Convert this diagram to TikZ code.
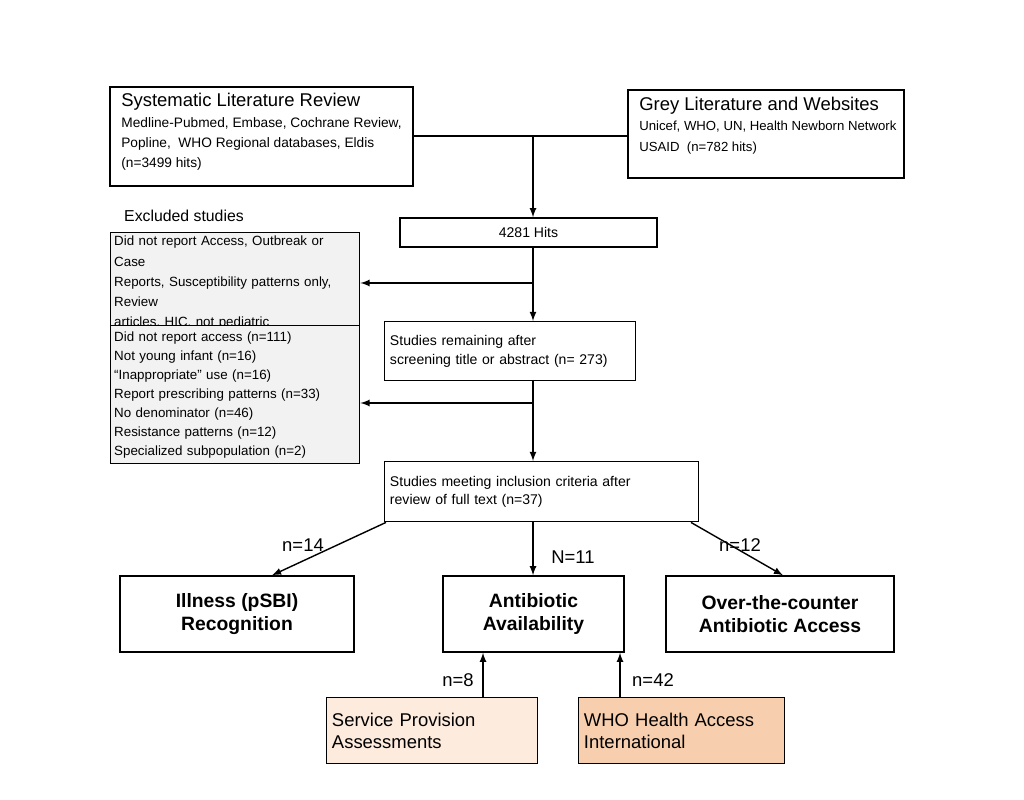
\documentclass[tikz,border=0pt]{standalone}
\usepackage{fontspec}
\setmainfont{Liberation Sans}
\usetikzlibrary{calc,arrows.meta}
\definecolor{svcfill}{HTML}{FDEBDD}
\definecolor{whofill}{HTML}{F8CFAE}
\definecolor{exclfill}{HTML}{F2F2F2}
\begin{document}
\begin{tikzpicture}[x=0.02cm,y=-0.02cm,
  box/.style={draw,line width=0.8pt,inner sep=3pt},
  small/.style={font=\fontsize{8}{10.5}\selectfont},
  excl/.style={box,fill=exclfill,align=left,anchor=north west,inner sep=2pt,
    text width=242*0.02cm,font=\fontsize{7.6}{11.5}\selectfont},
  big/.style={font=\fontsize{10.5}{12.5}\selectfont},
  bold/.style={font=\fontsize{11}{13}\selectfont\bfseries,align=center},
  arr/.style={-latex,line width=0.8pt}]
  \useasboundingbox (0,0) rectangle (1024,800);
  %% Sources
  \draw[box] (110,87) rectangle (413,186);
  \node[big,anchor=north west,inner sep=0pt] (SLR) at (121,93) {Systematic Literature Review};
  \node[anchor=north west,align=left,inner sep=0pt,font=\fontsize{7.8}{11.5}\selectfont] (SLRsub) at (121,117)
    {Medline-Pubmed, Embase, Cochrane Review,\\Popline,\ \ WHO Regional databases, Eldis\\(n=3499 hits)};
  \draw[box] (628,90) rectangle (904,178);
  \node[big,anchor=north west,inner sep=0pt] (GREY) at (639,97) {Grey Literature and Websites};
  \node[anchor=north west,align=left,inner sep=0pt,font=\fontsize{7.5}{11.5}\selectfont] (GREYsub) at (639,121)
    {Unicef, WHO, UN, Health Newborn Network\\USAID\ \ (n=782 hits)};
  \coordinate (SLRr) at (413,136);
  \coordinate (GREYl) at (628,136);
  \coordinate (JOIN) at (533,136);
  \draw[line width=0.8pt] (SLRr) -- (GREYl);

  %% Main flow
  \node[box,small,minimum width=257*0.02cm,minimum height=29*0.02cm] (HITS) at (528.5,232.5) {4281 Hits};
  \node[box,small,align=left,anchor=north west,text width=240*0.02cm,minimum height=59*0.02cm] (REM) at (384,321)
    {Studies remaining after\\screening title or abstract (n= 273)};
  \node[box,small,align=left,anchor=north west,text width=303*0.02cm,minimum height=60*0.02cm] (MEET) at (384,461)
    {Studies meeting inclusion criteria after\\review of full text (n=37)};
  \draw[arr] (JOIN) -- (HITS.north -| JOIN);
  \draw[arr] (HITS.south -| JOIN) -- (REM.north -| JOIN);
  \draw[arr] (REM.south -| JOIN) -- (MEET.north -| JOIN);

  %% Exclusions
  \node[anchor=west,font=\fontsize{9}{11}\selectfont] (EXLAB) at (118,216) {Excluded studies};
  \node[excl,minimum height=78*0.02cm] (EX1) at (110,232)
    {Did not report Access, Outbreak or Case\\Reports, Susceptibility patterns only, Review\\articles, HIC, not pediatric};
  \node[excl,minimum height=138*0.02cm,font=\fontsize{7.6}{10.8}\selectfont] (EX2) at (110,325)
    {Did not report access (n=111)\\Not young infant (n=16)\\``Inappropriate'' use (n=16)\\Report prescribing patterns (n=33)\\
     No denominator (n=46)\\Resistance patterns (n=12)\\Specialized subpopulation (n=2)};
  \coordinate (B1) at (533,283);
  \coordinate (B2) at (533,403);
  \draw[arr] (B1) -- (B1 -| EX1.east);
  \draw[arr] (B2) -- (B2 -| EX2.east);

  %% Outcomes
  \node[box,bold,minimum width=234*0.02cm,minimum height=76*0.02cm] (ILL) at (237,614) {Illness (pSBI)\\Recognition};
  \node[box,bold,minimum width=181*0.02cm,minimum height=76*0.02cm] (AVAIL) at (533.5,614) {Antibiotic\\Availability};
  \node[box,bold,minimum width=228*0.02cm,minimum height=76*0.02cm] (OTC) at (780,614) {Over-the-counter\\Antibiotic Access};
  \draw[arr] ($(MEET.south west)+(2,0)$) -- (ILL.north -| 272,0);
  \draw[arr] (MEET.south -| JOIN) -- (AVAIL.north -| JOIN);
  \draw[arr] ($(MEET.south east)+(-8,0)$) -- (OTC.north -| 783,0);
  \node[big] (N14) at (303,545) {n=14};
  \node[big] (N11) at (573,557) {N=11};
  \node[big] (N12) at (740,545) {n=12};

  %% Additional sources
  \node[box,big,fill=svcfill,align=left,anchor=north west,text width=200*0.02cm,minimum height=66*0.02cm] (SPA) at (326,697)
    {Service Provision\\Assessments};
  \node[box,big,fill=whofill,align=left,anchor=north west,text width=195*0.02cm,minimum height=66*0.02cm] (WHO) at (578,697)
    {WHO Health Access\\International};
  \draw[arr] (SPA.north -| 483,0) -- (AVAIL.south -| 483,0);
  \draw[arr] (WHO.north -| 620,0) -- (AVAIL.south -| 620,0);
  \node[big] (N8) at (458,680) {n=8};
  \node[big] (N42) at (653,680) {n=42};
\end{tikzpicture}
\end{document}
